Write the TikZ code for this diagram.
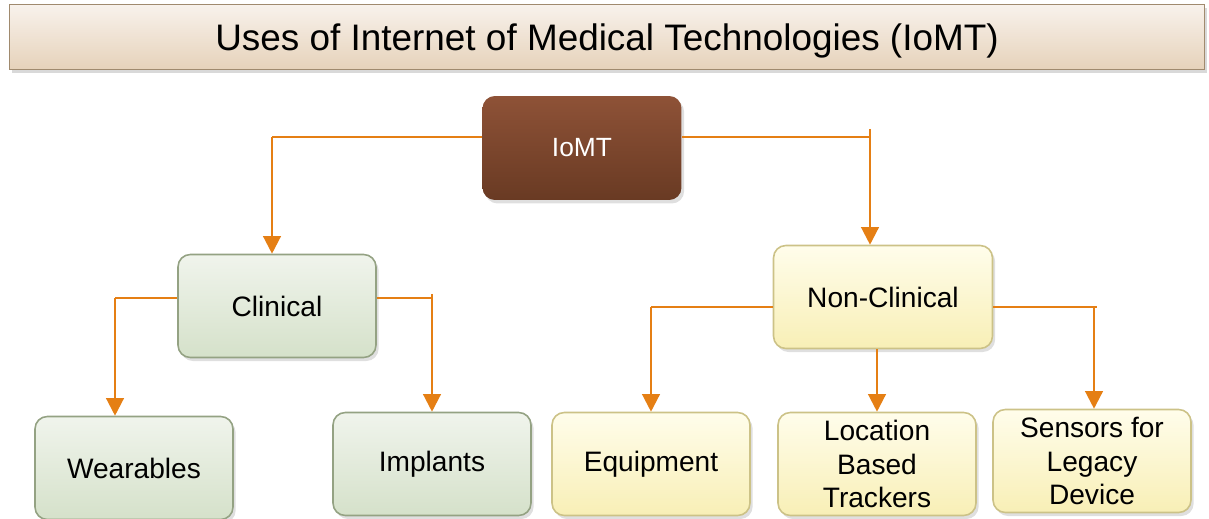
\documentclass[tikz,border=0pt]{standalone}
\usepackage{fontspec}
\setmainfont{Liberation Sans}
\usepackage{tikz}
\usetikzlibrary{shadows,arrows.meta}

\definecolor{linkorange}{HTML}{E57F14}
\definecolor{titletop}{HTML}{F8F2EC}
\definecolor{titlebot}{HTML}{E6D2BA}
\definecolor{titleline}{HTML}{A08A6E}
\definecolor{rootTop}{HTML}{8E5237}
\definecolor{rootBot}{HTML}{693A23}
\definecolor{clinTop}{HTML}{F0F4EC}
\definecolor{clinBot}{HTML}{D5E1CA}
\definecolor{clinLine}{HTML}{94A283}
\definecolor{nonTop}{HTML}{FFFDEB}
\definecolor{nonBot}{HTML}{F8EFB6}
\definecolor{nonLine}{HTML}{CCC287}

\begin{document}
\begin{tikzpicture}[x=0.02cm,y=-0.02cm,
    box/.style={rounded corners=7pt, minimum width=3.96cm, minimum height=2.06cm,
        align=center, font=\fontsize{16}{19.3}\selectfont,
        drop shadow={opacity=0.25, shadow xshift=1.5pt, shadow yshift=-2pt}},
    clinbox/.style={box, draw=clinLine, line width=0.9pt, top color=clinTop, bottom color=clinBot},
    nonbox/.style={box, draw=nonLine, line width=0.9pt, top color=nonTop, bottom color=nonBot},
    link/.style={draw=linkorange, line width=1.3pt},
    tip/.style={-{Triangle[length=10pt,width=10pt]}}]
                        \useasboundingbox (0,0) rectangle (1209,519);

                        % Nodes
                        \node[draw=titleline, line width=1pt, top color=titletop, bottom color=titlebot,
                            minimum width=23.9cm, minimum height=1.3cm, text depth=0pt,
                            font=\fontsize{21}{24}\selectfont,
                            drop shadow={opacity=0.3, shadow xshift=1.5pt, shadow yshift=-2pt}]
                            (title) at (607,37) {Uses of Internet of Medical Technologies (IoMT)};
                        \node[box, minimum width=3.98cm, minimum height=2.08cm, top color=rootTop,
                            bottom color=rootBot, text=white, font=\fontsize{15}{18}\selectfont]
                            (iomt) at (582,148) {IoMT};
                        \node[clinbox] (clinical) at (277,306) {Clinical};
                        \node[nonbox, minimum width=4.38cm] (nonclinical) at (883,297) {Non-Clinical};
                        \node[clinbox] (wearables) at (134,468) {Wearables};
                        \node[clinbox] (implants) at (432,464) {Implants};
                        \node[nonbox] (equipment) at (651,464) {Equipment};
                        \node[nonbox] (trackers) at (877,464) {Location\\Based\\Trackers};
                        \node[nonbox] (sensors) at (1092,461) {Sensors for\\Legacy\\Device};

                        % Corners
                        \coordinate (c1) at (272,137);
                        \coordinate (c2) at (870,137);
                        \coordinate (c2top) at (870,129);
                        \coordinate (c3) at (115,298);
                        \coordinate (c4) at (432,298);
                        \coordinate (c4top) at (432,294);
                        \coordinate (c5) at (651,307);
                        \coordinate (c6) at (1094,307);
                        \coordinate (c6end) at (1097,307);

                        % Edges
                        \draw[link] (iomt.west |- c1) -- (c1);
                        \draw[link, tip] (c1) -- (clinical.north -| c1);
                        \draw[link] (iomt.east |- c2) -- (c2);
                        \draw[link, tip] (c2top) -- (nonclinical.north -| c2);

                        \draw[link] (clinical.west |- c3) -- (c3);
                        \draw[link, tip] (c3) -- (wearables.north -| c3);
                        \draw[link] (clinical.east |- c4) -- (c4);
                        \draw[link, tip] (c4top) -- (implants.north -| c4);

                        \draw[link] (nonclinical.west |- c5) -- (c5);
                        \draw[link, tip] (c5) -- (equipment.north -| c5);
                        \draw[link, tip] (nonclinical.south -| trackers) -- (trackers.north);
                        \draw[link] (nonclinical.east |- c6) -- (c6end);
                        \draw[link, tip] (c6) -- (sensors.north -| c6);
                    \end{tikzpicture}
\end{document}
